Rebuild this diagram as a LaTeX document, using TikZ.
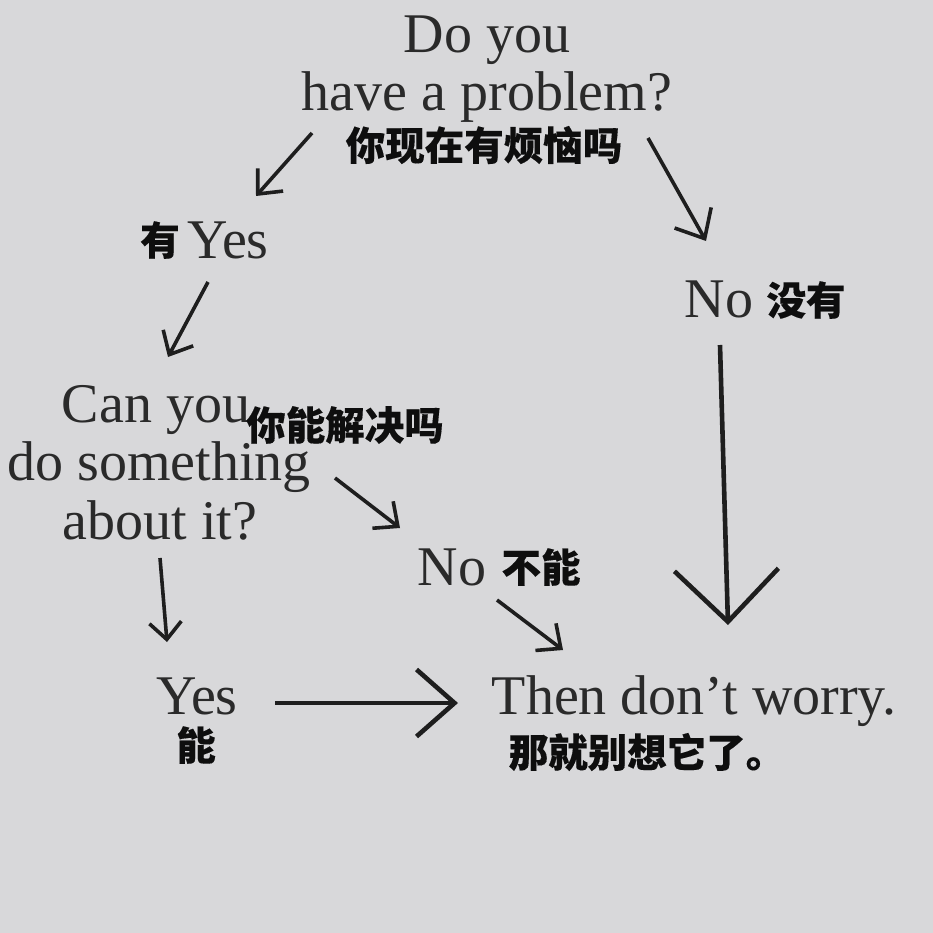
\documentclass[tikz,border=0pt]{standalone}
\usepackage{fontspec}
\setmainfont{Liberation Serif}
\newfontfamily\cjk{Noto Sans CJK SC}[BoldFeatures={FakeBold=0.25}]
\usetikzlibrary{arrows.meta}
\definecolor{bg}{RGB}{216,216,218}
\definecolor{ink}{RGB}{42,42,42}
\definecolor{arrink}{RGB}{30,30,30}
\definecolor{cjkink}{RGB}{14,14,14}
\begin{document}
\begin{tikzpicture}[x=1pt,y=-1pt,
  en/.style={inner sep=0pt, text=ink, font=\fontsize{56}{58}\selectfont, anchor=base},
  zh/.style={inner sep=0pt, text=cjkink, font=\cjk\bfseries\fontsize{39.5}{41}\selectfont},
  arr/.style={draw=arrink, line width=3.6pt, line join=miter, -{Straight Barb[length=19pt,width=34pt]}},
  bigarr/.style={draw=arrink, line width=4.6pt, line join=miter},
]
\fill[bg] (0,0) rectangle (933,933);
\useasboundingbox (0,0) rectangle (933,933);

\node[en] (q1a) at (487,53) {Do you};
\node[en] (q1b) at (487,111) {have a problem?};
\node[zh] (q1zh) at (484,145) {你现在有烦恼吗};

\node[zh] (yes1zh) at (160,240) {有};
\node[en] (yes1) at (228,258) {Yes};

\node[en] (no1) at (719,317) {No};
\node[zh] (no1zh) at (806,300) {没有};

\node[en] (q2a) at (156,422) {Can you};
\node[en] (q2b) at (159,480) {do something};
\node[en] (q2c) at (160,539) {about it?};
\node[zh] (q2zh) at (345,425) {你能解决吗};

\node[en] (no2) at (452,585) {No};
\node[zh] (no2zh) at (541,567) {不能};

\node[en] (yes2) at (197,714) {Yes};
\node[zh] (yes2zh) at (196,745) {能};

\node[en] (end) at (694,714) {Then don’t worry.};
\node[zh] (endzh) at (647,752) {那就别想它了。};

\coordinate (a1s) at (312,133); \coordinate (a1e) at (256,196);
\coordinate (a2s) at (648,138); \coordinate (a2e) at (706,241);
\coordinate (a3s) at (208,282); \coordinate (a3e) at (168,357);
\coordinate (a4s) at (720,345); \coordinate (a4e) at (728,625);
\coordinate (a5s) at (335,478); \coordinate (a5e) at (400,528);
\coordinate (a6s) at (497,600); \coordinate (a6e) at (563,650);
\coordinate (a7s) at (160,558); \coordinate (a7e) at (167,642);
\coordinate (a8s) at (275,703); \coordinate (a8e) at (458,703);

\draw[arr] (a1s) -- (a1e);
\draw[arr, -{Straight Barb[length=24pt,width=42pt]}] (a2s) -- (a2e);
\draw[arr] (a3s) -- (a3e);
\draw[bigarr, -{Straight Barb[length=52pt,width=104pt]}] (a4s) -- (a4e);
\draw[arr] (a5s) -- (a5e);
\draw[arr] (a6s) -- (a6e);
\draw[arr, -{Straight Barb[length=17pt,width=32pt]}] (a7s) -- (a7e);
\draw[bigarr, -{Straight Barb[length=38pt,width=67pt]}] (a8s) -- (a8e);
\end{tikzpicture}
\end{document}
